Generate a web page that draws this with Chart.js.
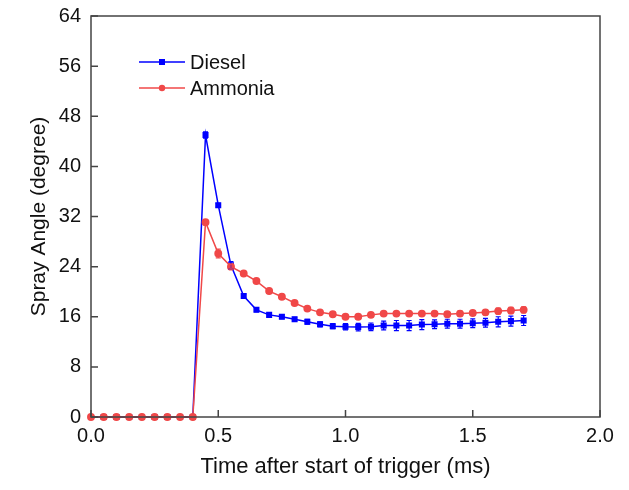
<!DOCTYPE html>
<html>
<head>
<meta charset="utf-8">
<script src="https://cdn.jsdelivr.net/npm/chart.js@4"></script>
<style>
  html, body { margin: 0; padding: 0; background: #fff; }
  #wrap { width: 629px; height: 490px; }
</style>
</head>
<body>
<div id="wrap"><canvas id="sprayChart" width="629" height="490"></canvas></div>
<script>
// time after trigger (ms)
const times = [0, 0.05, 0.1, 0.15, 0.2, 0.25, 0.3, 0.35, 0.4,
  0.45, 0.5, 0.55, 0.6, 0.65, 0.7, 0.75, 0.8, 0.85, 0.9, 0.95, 1.0,
  1.05, 1.1, 1.15, 1.2, 1.25, 1.3, 1.35, 1.4, 1.45, 1.5, 1.55, 1.6, 1.65, 1.7];

const dieselAngle = [0, 0, 0, 0, 0, 0, 0, 0, 0,
  45.0, 33.8, 24.2, 19.3, 17.1, 16.3, 16.0, 15.6, 15.2, 14.8, 14.5, 14.4,
  14.35, 14.4, 14.6, 14.6, 14.6, 14.75, 14.8, 14.9, 14.9, 14.95, 15.05, 15.2, 15.3, 15.4];
const dieselErr = [0, 0, 0, 0, 0, 0, 0, 0, 0,
  0.5, 0.3, 0.6, 0.3, 0.3, 0.3, 0.3, 0.3, 0.4, 0.4, 0.4, 0.5,
  0.6, 0.6, 0.7, 0.8, 0.8, 0.8, 0.7, 0.7, 0.7, 0.7, 0.7, 0.8, 0.8, 0.8];

const ammoniaAngle = [0, 0, 0, 0, 0, 0, 0, 0, 0,
  31.1, 26.1, 24.0, 22.9, 21.7, 20.1, 19.2, 18.2, 17.3, 16.7, 16.4, 16.0,
  16.0, 16.3, 16.5, 16.5, 16.5, 16.5, 16.5, 16.4, 16.5, 16.6, 16.7, 16.9, 17.0, 17.1];
const ammoniaErr = [0, 0, 0, 0, 0, 0, 0, 0, 0,
  0.4, 0.7, 0.4, 0.3, 0.3, 0.3, 0.3, 0.3, 0.3, 0.3, 0.3, 0.3,
  0.3, 0.3, 0.3, 0.3, 0.3, 0.3, 0.3, 0.4, 0.4, 0.4, 0.4, 0.5, 0.5, 0.5];

const xTicks = [0, 0.5, 1.0, 1.5, 2.0];
const yTicks = [0, 8, 16, 24, 32, 40, 48, 56, 64];

const BLUE = '#0000ff';
const RED = '#f04848';
const AXIS = '#444444';
const FONT = "'Liberation Sans', Arial, sans-serif";

const toPoints = (ys) => times.map((t, i) => ({ x: t, y: ys[i] }));

// error bars with small caps
const errorBars = {
    id: 'errorBars',
    afterDatasetsDraw(chart) {
        const { ctx, scales: { x, y } } = chart;
        chart.data.datasets.forEach((ds) => {
            if (!ds.errors) return;
            ctx.save();
            ctx.strokeStyle = ds.borderColor;
            ctx.lineWidth = 1.2;
            ds.data.forEach((p, i) => {
                const e = ds.errors[i];
                if (!e) return;
                const px = x.getPixelForValue(p.x);
                const top = y.getPixelForValue(p.y + e);
                const bot = y.getPixelForValue(p.y - e);
                ctx.beginPath();
                ctx.moveTo(px, top); ctx.lineTo(px, bot);
                ctx.moveTo(px - 2.5, top); ctx.lineTo(px + 2.5, top);
                ctx.moveTo(px - 2.5, bot); ctx.lineTo(px + 2.5, bot);
                ctx.stroke();
            });
            ctx.restore();
        });
    }
};

// frame + inward ticks
const frameTicks = {
    id: 'frameTicks',
    afterDraw(chart) {
        const { ctx, chartArea: a, scales: { x, y } } = chart;
        ctx.save();
        ctx.strokeStyle = AXIS;
        ctx.lineWidth = 1.5;
        ctx.strokeRect(a.left, a.top, a.right - a.left, a.bottom - a.top);
        ctx.beginPath();
        xTicks.forEach(v => {
            const px = x.getPixelForValue(v);
            ctx.moveTo(px, a.bottom); ctx.lineTo(px, a.bottom - 7);
        });
        yTicks.forEach(v => {
            const py = y.getPixelForValue(v);
            ctx.moveTo(a.left, py); ctx.lineTo(a.left + 7, py);
        });
        ctx.stroke();
        ctx.restore();
    }
};

// legend inside the plot, top-left
const insideLegend = {
    id: 'insideLegend',
    afterDraw(chart) {
        const { ctx } = chart;
        const rows = [{ ds: chart.data.datasets[0], y: 62 }, { ds: chart.data.datasets[1], y: 88 }];
        ctx.save();
        rows.forEach(r => {
            ctx.strokeStyle = r.ds.borderColor;
            ctx.lineWidth = 1.5;
            ctx.beginPath();
            ctx.moveTo(139, r.y); ctx.lineTo(185, r.y);
            ctx.stroke();
            ctx.fillStyle = r.ds.backgroundColor;
            if (r.ds.pointStyle === 'rect') {
                ctx.fillRect(159, r.y - 3, 6, 6);
            } else {
                ctx.beginPath(); ctx.arc(162, r.y, 3.2, 0, Math.PI * 2); ctx.fill();
            }
            ctx.fillStyle = '#111';
            ctx.font = '20px ' + FONT;
            ctx.textBaseline = 'middle';
            ctx.fillText(r.ds.label, 190, r.y + 1);
        });
        ctx.restore();
    }
};

new Chart(document.getElementById('sprayChart').getContext('2d'), {
    type: 'line',
    data: {
        datasets: [
            { label: 'Diesel', data: toPoints(dieselAngle), errors: dieselErr,
              borderColor: BLUE, backgroundColor: BLUE, borderWidth: 1.5,
              pointStyle: 'rect', pointRadius: 3.2, order: 1 },
            { label: 'Ammonia', data: toPoints(ammoniaAngle), errors: ammoniaErr,
              borderColor: RED, backgroundColor: RED, borderWidth: 1.5,
              pointStyle: 'circle', pointRadius: 3.2, order: 0 }
        ]
    },
    options: {
        responsive: false,
        animation: false,
        clip: false,
        layout: { padding: { top: 16, right: 29, left: 0, bottom: 0 } },
        plugins: { legend: { display: false }, tooltip: { enabled: false } },
        scales: {
            x: {
                type: 'linear', min: 0, max: 2,
                afterBuildTicks: (s) => { s.ticks = xTicks.map(v => ({ value: v })); },
                afterFit: (s) => { s.height = 73; s.paddingLeft = 0; s.paddingRight = 0; },
                grid: { display: false, drawTicks: false },
                border: { display: false },
                ticks: { padding: 7, color: '#111', font: { family: FONT, size: 20 },
                         callback: (v) => v.toFixed(1) },
                title: { display: true, text: 'Time after start of trigger (ms)', color: '#111',
                         font: { family: FONT, size: 22 }, padding: { top: 0, bottom: 10 } }
            },
            y: {
                min: 0, max: 64,
                afterBuildTicks: (s) => { s.ticks = yTicks.map(v => ({ value: v })); },
                afterFit: (s) => { s.width = 91; s.paddingTop = 0; s.paddingBottom = 0; },
                grid: { display: false, drawTicks: false },
                border: { display: false },
                ticks: { padding: 10, color: '#111', font: { family: FONT, size: 20 } },
                title: { display: true, text: 'Spray Angle (degree)', color: '#111',
                         font: { family: FONT, size: 21 }, padding: { top: 27, bottom: 0 } }
            }
        }
    },
    plugins: [errorBars, frameTicks, insideLegend]
});
</script>
</body>
</html>
